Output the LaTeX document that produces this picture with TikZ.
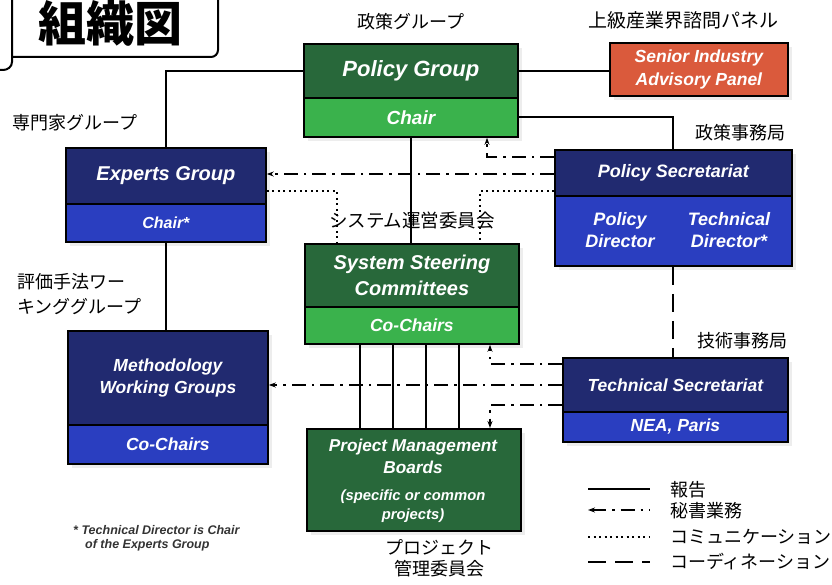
\documentclass[tikz,border=0pt]{standalone}
\usepackage{fontspec}
\setmainfont{Liberation Sans}
\newfontfamily\jp{Noto Sans CJK JP}
\usetikzlibrary{arrows.meta,shadows}
\definecolor{dgreen}{RGB}{40,104,58}
\definecolor{lgreen}{RGB}{58,178,76}
\definecolor{navy}{RGB}{33,42,112}
\definecolor{mblue}{RGB}{42,62,192}
\definecolor{orng}{RGB}{218,90,60}
\newcommand{\fs}[1]{\fontsize{#1}{\fpeval{#1*1.27}}\selectfont}
\newcommand{\fsj}[1]{\fontsize{#1}{\fpeval{#1*1.2}}\selectfont}
\tikzset{
  boxpart/.style={draw=black, line width=1.8pt, inner sep=0pt, anchor=north west,
    text=white, font=\bfseries\itshape\fs{#1}, align=center,
    drop shadow={shadow xshift=4pt, shadow yshift=-4pt, fill=black!14}},
  boxpart/.default=17.5,
  wtxt/.style={text=white, font=\bfseries\itshape\fs{#1}, align=center, inner sep=0pt},
  rep/.style={draw=black, line width=2pt},
  sec/.style={draw=black, line width=2pt, dash pattern=on 14pt off 6pt on 2.5pt off 6pt,
    -{Stealth[length=7pt,width=5pt]}},
  secplain/.style={draw=black, line width=2pt, dash pattern=on 14pt off 6pt on 2.5pt off 6pt},
  comm/.style={draw=black, line width=2.2pt, dash pattern=on 2pt off 3.5pt},
  coord/.style={draw=black, line width=2pt, dash pattern=on 18pt off 9pt},
  jlab/.style={font=\jp\fsj{18}, text=black, inner sep=0pt},
  titlebox/.style={draw=black, line width=2pt}
}
\begin{document}
\begin{tikzpicture}[x=1pt,y=-1pt]
\useasboundingbox (0,0) rectangle (832,585);
% title
\draw[titlebox, rounded corners=7pt] (12,57) -- (218,57) -- (218,-20);
\draw[titlebox] (12,-20) -- (12,62) to[out=-90,in=0] (3,70) -- (-3,70);
\node[font=\jp\bfseries\fsj{48}, inner sep=0pt] (title) at (110,23) {組織図};

% boxes
\node[boxpart=22, fill=dgreen, minimum width=214pt, minimum height=54pt] (pgt) at (303,43) {Policy Group};
\node[boxpart=19, fill=lgreen, minimum width=214pt, minimum height=39pt] (pgb) at (303,97) {Chair};

\node[boxpart=17.5, fill=orng, minimum width=178pt, minimum height=53pt] (siap) at (609,42) {Senior Industry\\Advisory Panel};

\node[boxpart=20, fill=navy, minimum width=200pt, minimum height=56pt] (egt) at (65,147) {Experts Group};
\node[boxpart=16, fill=mblue, minimum width=200pt, minimum height=38pt] (egb) at (65,203) {Chair*};

\node[boxpart=18, fill=navy, minimum width=237pt, minimum height=46pt] (pst) at (554,149) {Policy Secretariat};
\node[boxpart=18, fill=mblue, minimum width=237pt, minimum height=70pt] (psb) at (554,195) {};
\node[wtxt=18] (pdir) at (620,230) {Policy\\Director};
\node[wtxt=18] (tdir) at (729,230) {Technical\\Director*};

\node[boxpart=20, fill=dgreen, minimum width=214pt, minimum height=63pt] (ssct) at (304,243) {System Steering\\Committees};
\node[boxpart=17.5, fill=lgreen, minimum width=214pt, minimum height=37pt] (sscb) at (304,306) {Co-Chairs};

\node[boxpart=17.5, fill=navy, minimum width=200pt, minimum height=94pt] (mwgt) at (67,330) {Methodology\\Working Groups};
\node[boxpart=17.5, fill=mblue, minimum width=200pt, minimum height=39pt] (mwgb) at (67,424) {Co-Chairs};

\node[boxpart=17.5, fill=navy, minimum width=225pt, minimum height=54pt] (tst) at (562,357) {Technical Secretariat};
\node[boxpart=17.5, fill=mblue, minimum width=225pt, minimum height=30pt] (tsb) at (562,411) {NEA, Paris};

\node[boxpart=17, fill=dgreen, minimum width=214pt, minimum height=102pt] (pmb) at (306,428) {};
\node[wtxt=17.2] (pmbt) at (413,456) {Project Management\\Boards};
\node[wtxt=14.8] (pmbs) at (413,506) {(specific or common\\projects)};

% Japanese labels
\node[jlab] (l1) at (411,22) {政策グループ};
\node[jlab, font=\jp\fsj{19}] (l2) at (683,20) {上級産業界諮問パネル};
\node[jlab] (l3) at (75,123) {専門家グループ};
\node[jlab] (l4) at (740,133) {政策事務局};
\node[jlab, font=\jp\fsj{18.5}] (l5) at (412,220) {システム運営委員会};
\node[jlab, anchor=west, align=left, font=\jp\fontsize{18}{25}\selectfont] (l6) at (17,294) {評価手法ワー\\キンググループ};
\node[jlab] (l7) at (742,341) {技術事務局};
\node[jlab, align=center, font=\jp\fontsize{18}{21}\selectfont] (l8) at (439,558) {プロジェクト\\管理委員会};

% reporting lines
\draw[rep] (pgt.west) -| (egt.north);
\draw[rep] (pgt.east) -- (pgt.east -| siap.west);
\draw[rep] (pgb.east) -| (pst.north);
\draw[rep] (pgb.south) -- (pgb.south |- ssct.north);
\draw[rep] (egb.south) -- (egb.south |- mwgt.north);
\foreach \xx in {360,393,426,459}
  \draw[rep] (sscb.south -| \xx,0) -- (pmb.north -| \xx,0);

% secretariat lines
\draw[sec] (pst.west |- 0,157) -| (pgb.south -| 487,0);
\draw[sec] (pst.west |- 0,174) -- (egt.east |- 0,174);
\draw[sec] (tst.west |- 0,364) -| (sscb.south -| 490,0);
\draw[sec] (tst.west |- 0,405) -| (pmb.north -| 490,0);
\draw[sec] (tst.west |- 0,385) -- (mwgt.east |- 0,385);

% communication lines
\draw[comm] (egt.east |- 0,191) -| (ssct.north -| 337,0);
\draw[comm] (pst.west |- 0,191) -| (ssct.north -| 480,0);

% coordination
\draw[coord] (psb.south) -- (psb.south |- tst.north);

% legend
\coordinate (g1a) at (588,489); \coordinate (g1b) at (650,489);
\coordinate (g2a) at (588,510); \coordinate (g2b) at (650,510);
\coordinate (g3a) at (588,537); \coordinate (g3b) at (650,537);
\coordinate (g4a) at (588,562); \coordinate (g4b) at (650,562);
\draw[rep] (g1a) -- (g1b);
\draw[secplain, {Stealth[length=7pt,width=5pt]}-] (g2a) -- (g2b);
\draw[comm] (g3a) -- (g3b);
\draw[coord] (g4a) -- (g4b);
\node[jlab, anchor=west] (t1) at (670,490) {報告};
\node[jlab, anchor=west] (t2) at (670,511) {秘書業務};
\node[jlab, anchor=west] (t3) at (670,537) {コミュニケーション};
\node[jlab, anchor=west] (t4) at (670,562) {コーディネーション};

% footnote
\node[anchor=west, inner sep=0pt, font=\bfseries\itshape\fs{12.5}, text=black!80] (fn1) at (73,530) {* Technical Director is Chair};
\node[anchor=west, inner sep=0pt, font=\bfseries\itshape\fs{12.5}, text=black!80] (fn2) at (85,545) {of the Experts Group};
\end{tikzpicture}
\end{document}
